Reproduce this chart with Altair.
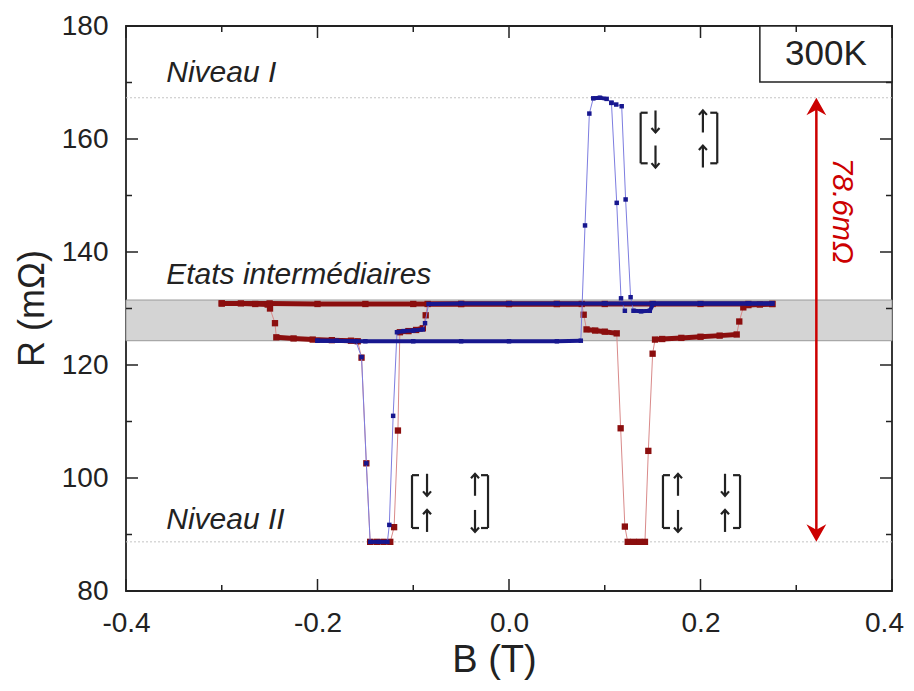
import altair as alt
import pandas as pd

# ---------------- axes ----------------
X_DOMAIN = [-0.4, 0.4]
Y_DOMAIN = [80, 180]
x_major = [-0.4, -0.2, 0.0, 0.2, 0.4]
x_minor = [-0.3, -0.1, 0.1, 0.3]
y_major = [80, 100, 120, 140, 160, 180]
y_minor = [90, 110, 130, 150, 170]

# ---------------- reference levels ----------------
level_R = [167.3, 88.7]          # Niveau I, Niveau II
band_R = [124.3, 131.5]          # Etats intermédiaires

# ---------------- measured traces (B in T, R in mOhm, plateau flag) ----------------
red_up_B = [-0.300, -0.280, -0.265, -0.252, -0.2496, -0.2444, -0.243, -0.225, -0.205, -0.185, -0.165, -0.158,
            -0.154, -0.149, -0.145, -0.138, -0.131, -0.124, -0.120, -0.116, -0.114, -0.105, -0.097, -0.090,
            -0.087, -0.085, -0.050, 0.000, 0.050, 0.100, 0.150, 0.200, 0.250, 0.275]
red_up_R = [130.9, 130.9, 130.8, 130.7, 130.0, 127.4, 124.9, 124.7, 124.5, 124.4, 124.3, 124.2,
            121.3, 102.6, 88.7, 88.7, 88.7, 88.7, 91.3, 108.4, 125.8, 126.0, 126.2, 126.5,
            128.8, 130.8, 130.8, 130.8, 130.8, 130.8, 130.8, 130.8, 130.8, 130.8]
red_up_P = [1, 1, 1, 1, 0, 0, 1, 1, 1, 1, 1, 1,
            0, 0, 1, 1, 1, 1, 0, 0, 1, 1, 1, 1,
            0, 1, 1, 1, 1, 1, 1, 1, 1, 1]

red_down_B = [0.275, 0.262, 0.250, 0.2447, 0.2405, 0.2378, 0.220, 0.200, 0.180, 0.160, 0.1525,
              0.150, 0.1455, 0.142, 0.136, 0.130, 0.124, 0.121, 0.1166, 0.1125, 0.100, 0.090, 0.081,
              0.078, 0.076, 0.050, 0.000, -0.050, -0.100, -0.150, -0.200, -0.250, -0.300]
red_down_R = [130.8, 130.7, 130.6, 130.2, 127.7, 125.4, 125.2, 125.0, 124.8, 124.6, 124.5,
              122.0, 104.8, 88.7, 88.7, 88.7, 88.7, 91.4, 108.8, 125.6, 125.9, 126.1, 126.3,
              128.9, 130.8, 130.8, 130.8, 130.8, 130.8, 130.8, 130.8, 130.9, 130.9]
red_down_P = [1, 1, 1, 0, 0, 1, 1, 1, 1, 1, 1,
              0, 0, 1, 1, 1, 1, 0, 0, 1, 1, 1, 1,
              0, 1, 1, 1, 1, 1, 1, 1, 1, 1]

blue_down_B = [0.275, 0.250, 0.200, 0.150, 0.100, 0.050, 0.000, -0.050, -0.084, -0.0877, -0.090, -0.100,
               -0.110, -0.117, -0.121, -0.125, -0.127, -0.136, -0.145, -0.149, -0.154, -0.160, -0.180, -0.200]
blue_down_R = [130.9, 130.9, 130.9, 130.9, 130.9, 130.9, 130.9, 130.9, 130.8, 127.4, 126.3, 126.1,
               126.0, 125.8, 111.0, 91.7, 88.7, 88.7, 88.7, 102.6, 121.4, 124.2, 124.3, 124.3]
blue_down_P = [1, 1, 1, 1, 1, 1, 1, 1, 1, 0, 1, 1,
               1, 1, 0, 0, 1, 1, 1, 0, 0, 1, 1, 1]

blue_up_B = [-0.200, -0.150, -0.100, -0.050, 0.000, 0.050, 0.075, 0.0794, 0.0839, 0.088, 0.095, 0.102,
             0.107, 0.112, 0.1177, 0.1218, 0.127, 0.130, 0.138, 0.147, 0.151, 0.200, 0.250, 0.275]
blue_up_R = [124.3, 124.2, 124.2, 124.2, 124.2, 124.2, 124.3, 144.7, 164.5, 167.2, 167.3, 167.1,
             166.4, 166.1, 165.8, 149.3, 132.0, 129.6, 129.5, 129.6, 130.9, 130.9, 130.9, 130.9]
blue_up_P = [1, 1, 1, 1, 1, 1, 1, 0, 0, 1, 1, 1,
             0, 0, 0, 0, 0, 1, 1, 1, 1, 1, 1, 1]

blue_alt_B = [0.107, 0.1125, 0.117, 0.121]
blue_alt_R = [166.4, 148.7, 131.8, 129.6]
blue_alt_P = [0, 0, 0, 0]

# ---------------- annotations ----------------
level_text = ["Niveau I", "Etats intermédiaires", "Niveau II"]
level_text_B = [-0.358, -0.358, -0.358]
level_text_R = [171.6, 135.9, 92.5]

span_B = 0.321
span_label = "78.6mΩ"
span_label_B = 0.3475
span_label_R = 147.3

temp_label = "300K"
temp_box_B = [0.262, 0.4]
temp_box_R = [170.1, 180.0]

# matrices: left bracket B, right bracket B, top R, bottom R, column B's, row R's, arrow directions
matrices = [
    dict(L=0.1375, Rt=0.2175, top=164.65, bot=155.7, cols=[0.153, 0.2025], rows=[163.1, 156.9],
         arrows=[["down", "up"], ["down", "up"]]),
    dict(L=-0.1013, Rt=-0.0219, top=100.5, bot=91.15, cols=[-0.0856, -0.0355], rows=[98.8, 92.4],
         arrows=[["down", "up"], ["up", "down"]]),
    dict(L=0.1608, Rt=0.2413, top=100.5, bot=91.15, cols=[0.1765, 0.2256], rows=[98.8, 92.4],
         arrows=[["up", "down"], ["down", "up"]]),
]

# ---------------- styling ----------------
FONT = "Liberation Sans"
INK = "#222222"
RED_MK, RED_LN = "#8b0e0e", "#d98a8a"
BLUE_MK, BLUE_LN = "#17178f", "#7d7de0"
ARROW_RED = "#cc0000"
W, H = 766, 565
PX_R = (Y_DOMAIN[1] - Y_DOMAIN[0]) / H     # data units per pixel (R)
PX_B = (X_DOMAIN[1] - X_DOMAIN[0]) / W     # data units per pixel (B)


def trace_rows(name, Bs, Rs, Ps):
    assert len(Bs) == len(Rs) == len(Ps), name
    rows, grp, prev = [], 0, 0
    for i, (b, r, p) in enumerate(zip(Bs, Rs, Ps)):
        if p and not prev:
            grp += 1
        rows.append(dict(trace=name, seq=i, B=b, R=r, flag=p, grp=f"{name}-{grp}" if p else ""))
        prev = p
    return rows


red_df = pd.DataFrame(trace_rows("red_up", red_up_B, red_up_R, red_up_P)
                      + trace_rows("red_down", red_down_B, red_down_R, red_down_P))
blue_df = pd.DataFrame(trace_rows("blue_down", blue_down_B, blue_down_R, blue_down_P)
                       + trace_rows("blue_up", blue_up_B, blue_up_R, blue_up_P)
                       + trace_rows("blue_alt", blue_alt_B, blue_alt_R, blue_alt_P))

xs = alt.Scale(domain=X_DOMAIN, nice=False, zero=False)
ys = alt.Scale(domain=Y_DOMAIN, nice=False, zero=False)

x_axis = alt.Axis(
    values=x_major,
    labelExpr="datum.value < 0 ? '-' + format(-datum.value, '.1f') : format(datum.value, '.1f')",
    labelFontSize=28, labelFont=FONT, labelColor=INK,
    labelOffset={"condition": {"test": "datum.value > 0.35", "value": -8}, "value": 0},
    ticks=False, tickSize=0, domain=False, grid=False, labelPadding=18, labelFlush=False,
    title="B (T)", titleFontSize=38, titleFont=FONT, titleFontWeight="normal", titleColor=INK,
    titleX=368, titleY=69, titleBaseline="middle")
y_axis = alt.Axis(
    values=y_major, labelFontSize=28, labelFont=FONT, labelColor=INK,
    ticks=False, tickSize=0, domain=False, grid=False, labelPadding=18,
    title="R (mΩ)", titleFontSize=36, titleFont=FONT, titleFontWeight="normal", titleColor=INK,
    titleX=-94, titleY=282, titleAngle=-90, titleBaseline="middle")
X = alt.X("B:Q", scale=xs, axis=x_axis)
Y = alt.Y("R:Q", scale=ys, axis=y_axis)

# band
band_df = pd.DataFrame({"B": [X_DOMAIN[0]], "B2": [X_DOMAIN[1]], "R": [band_R[0]], "R2": [band_R[1]]})
band = alt.Chart(band_df).mark_rect(fill="#d4d4d4", stroke="#9a9a9a", strokeWidth=1).encode(
    x=X, x2="B2:Q", y=Y, y2="R2:Q")

levels = alt.Chart(pd.DataFrame({"R": level_R})).mark_rule(
    color="#c4c4c4", strokeDash=[2, 2], strokeWidth=1).encode(y=Y)


def curve_layers(df, mk, ln, thick, msize):
    thin = alt.Chart(df).mark_line(color=ln, strokeWidth=1).encode(
        x=X, y=Y, detail="trace:N", order="seq:Q")
    plat = alt.Chart(df).transform_filter("datum.flag == 1").mark_line(
        color=mk, strokeWidth=thick, strokeCap="butt").encode(
        x=X, y=Y, detail="grp:N", order="seq:Q")
    pts = alt.Chart(df).mark_square(color=mk, size=msize, opacity=1).encode(x=X, y=Y)
    return [thin, plat, pts]


red_layers = curve_layers(red_df, RED_MK, RED_LN, 5, 40)
blue_layers = curve_layers(blue_df, BLUE_MK, BLUE_LN, 4, 20)

# level labels
lab_df = pd.DataFrame({"B": level_text_B, "R": level_text_R, "t": level_text})
labels = alt.Chart(lab_df).mark_text(
    align="left", baseline="middle", font=FONT, fontSize=30, fontStyle="italic", color=INK).encode(
    x=X, y=Y, text="t:N")

# red double arrow
head_len = 11 * PX_R
arrow_line = alt.Chart(pd.DataFrame({"B": [span_B], "R": [level_R[1] + head_len], "R2": [level_R[0] - head_len]})).mark_rule(
    color=ARROW_RED, strokeWidth=2.5).encode(x=X, y=Y, y2="R2:Q")
head_up = alt.Chart(pd.DataFrame({"B": [span_B], "R": [level_R[0] - head_len]})).mark_point(
    shape="M0,-1L0.9,0.6L0,0.1L-0.9,0.6Z", filled=True, size=484, color=ARROW_RED, opacity=1,
    strokeWidth=0).encode(x=X, y=Y)
head_down = alt.Chart(pd.DataFrame({"B": [span_B], "R": [level_R[1] + head_len]})).mark_point(
    shape="M0,1L0.9,-0.6L0,-0.1L-0.9,-0.6Z", filled=True, size=484, color=ARROW_RED, opacity=1,
    strokeWidth=0).encode(x=X, y=Y)
span_text = alt.Chart(pd.DataFrame({"B": [span_label_B], "R": [span_label_R], "t": [span_label]})).mark_text(
    angle=90, align="center", baseline="middle", font=FONT, fontSize=30, fontStyle="italic",
    color=ARROW_RED).encode(x=X, y=Y, text="t:N")

# 300K box
box = alt.Chart(pd.DataFrame({"B": [temp_box_B[0]], "B2": [temp_box_B[1]],
                              "R": [temp_box_R[0]], "R2": [temp_box_R[1]]})).mark_rect(
    fill="white", stroke=INK, strokeWidth=1.5).encode(x=X, x2="B2:Q", y=Y, y2="R2:Q")
box_text = alt.Chart(pd.DataFrame({"B": [sum(temp_box_B) / 2], "R": [sum(temp_box_R) / 2], "t": [temp_label]})).mark_text(
    align="center", baseline="middle", font=FONT, fontSize=35, color=INK).encode(x=X, y=Y, text="t:N")

# matrices: brackets + spin arrows (stem + chevron head)
serif = 7 * PX_B
half_stem = 11 * PX_R
seg_rows, stem_rows, up_tips, down_tips = [], [], [], []
for m in matrices:
    for xb, s in ((m["L"], serif), (m["Rt"], -serif)):
        seg_rows.append(dict(B=xb, B2=xb, R=m["bot"], R2=m["top"]))
        seg_rows.append(dict(B=xb, B2=xb + s, R=m["top"], R2=m["top"]))
        seg_rows.append(dict(B=xb, B2=xb + s, R=m["bot"], R2=m["bot"]))
    for ri, rr in enumerate(m["rows"]):
        for ci, cb in enumerate(m["cols"]):
            stem_rows.append(dict(B=cb, B2=cb, R=rr - half_stem, R2=rr + half_stem))
            if m["arrows"][ri][ci] == "up":
                up_tips.append(dict(B=cb, R=rr + half_stem))
            else:
                down_tips.append(dict(B=cb, R=rr - half_stem))
brackets = alt.Chart(pd.DataFrame(seg_rows + stem_rows)).mark_rule(color=INK, strokeWidth=2.2).encode(
    x=X, x2="B2:Q", y=Y, y2="R2:Q")
tips_up = alt.Chart(pd.DataFrame(up_tips)).mark_point(
    shape="M-1,1.1L0,0L1,1.1", filled=False, size=64, color=INK, strokeWidth=2.2, opacity=1).encode(x=X, y=Y)
tips_down = alt.Chart(pd.DataFrame(down_tips)).mark_point(
    shape="M-1,-1.1L0,0L1,-1.1", filled=False, size=64, color=INK, strokeWidth=2.2, opacity=1).encode(x=X, y=Y)

# inward ticks
def yticks(vals, length):
    d = pd.DataFrame({"R": vals})
    left = alt.Chart(d).mark_rule(color=INK, strokeWidth=1.5).encode(
        y=Y, x=alt.value(0), x2=alt.value(length))
    right = alt.Chart(d).mark_rule(color=INK, strokeWidth=1.5).encode(
        y=Y, x=alt.value(W), x2=alt.value(W - length))
    return [left, right]


def xticks(vals, length):
    d = pd.DataFrame({"B": vals})
    bottom = alt.Chart(d).mark_rule(color=INK, strokeWidth=1.5).encode(
        x=X, y=alt.value(H), y2=alt.value(H - length))
    top = alt.Chart(d).mark_rule(color=INK, strokeWidth=1.5).encode(
        x=X, y=alt.value(0), y2=alt.value(length))
    return [bottom, top]


ticks = yticks(y_major, 12) + yticks(y_minor, 6) + xticks(x_major, 12) + xticks(x_minor, 6)

chart = alt.layer(
    band, levels, *red_layers, *blue_layers, labels, arrow_line, head_up, head_down, span_text,
    brackets, tips_up, tips_down, box, box_text, *ticks
).properties(
    width=W, height=H,
    background="white",
    autosize=alt.AutoSizeParams(type="none"),
    padding={"left": 118, "top": 18, "right": 12, "bottom": 90},
).configure_view(stroke=INK, strokeWidth=1.8)

chart.save("out.html", embed_options={"renderer": "svg", "actions": False})
